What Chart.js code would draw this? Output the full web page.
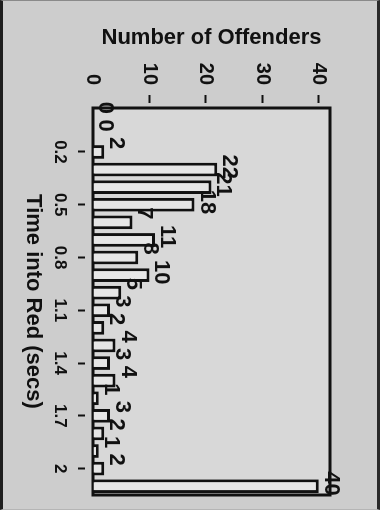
<!DOCTYPE html>
<html>
<head>
<meta charset="utf-8">
<script src="https://cdn.jsdelivr.net/npm/chart.js@4/dist/chart.umd.min.js"></script>
<style>
  html, body { margin: 0; padding: 0; }
  body { width: 380px; height: 510px; overflow: hidden; background: #cdcdcd; position: relative; }
  #edge { position: absolute; left: 0; top: 0; width: 374px; height: 508px;
          border-left: 3px solid #1e1e1e; border-right: 3px solid #2a2a2a;
          border-top: 1px solid #8a8a8a; border-bottom: 1px solid #b5b5b5; }
  /* the scan is a column chart turned a quarter turn clockwise */
  #wrap { position: absolute; left: 0; top: 0; width: 510px; height: 380px;
          transform-origin: 0 0; transform: translate(380px, 0) rotate(90deg); }
</style>
</head>
<body>
<div id="edge"></div>
<div id="wrap"><canvas id="chart" width="510" height="380"></canvas></div>
<script>
// Time into red, 0.1 s bins
const binLabels = ['0', '0.1', '0.2', '0.3', '0.4', '0.5', '0.6', '0.7', '0.8', '0.9', '1',
                   '1.1', '1.2', '1.3', '1.4', '1.5', '1.6', '1.7', '1.8', '1.9', '2', '2.1'];
const offenders = [0, 0, 2, 22, 21, 18, 7, 11, 8, 10, 5,
                   3, 2, 4, 3, 4, 1, 3, 2, 1, 2, 40];
const shownBins = ['0.2', '0.5', '0.8', '1.1', '1.4', '1.7', '2'];
const valueTicks = [0, 10, 20, 30, 40];

const INK = '#111';
const FONT = "'Liberation Sans', Arial, sans-serif";

// frame round the plot, drawn under the bars
const framePlugin = {
  id: 'frame',
  beforeDatasetsDraw(chart) {
    const { ctx, chartArea: a } = chart;
    ctx.save();
    ctx.fillStyle = '#d8d8d8';
    ctx.fillRect(a.left, a.top, a.right - a.left, a.bottom - a.top);
    ctx.strokeStyle = INK;
    ctx.lineWidth = 3;
    ctx.strokeRect(a.left, a.top, a.right - a.left, a.bottom - a.top);
    ctx.restore();
  }
};

// count written at the end of each bar
const countLabels = {
  id: 'countLabels',
  afterDatasetsDraw(chart) {
    const { ctx } = chart;
    const meta = chart.getDatasetMeta(0);
    ctx.save();
    ctx.fillStyle = INK;
    ctx.font = 'bold 22px ' + FONT;
    ctx.textAlign = 'left';
    ctx.textBaseline = 'bottom';
    meta.data.forEach((bar, i) => {
      ctx.fillText(String(offenders[i]), bar.x - 15, bar.y - 1);
    });
    ctx.restore();
  }
};

new Chart(document.getElementById('chart'), {
  type: 'bar',
  data: {
    labels: binLabels,
    datasets: [{
      data: offenders,
      backgroundColor: '#e6e6e6',
      borderColor: INK,
      borderWidth: 3,
      barPercentage: 0.78,
      categoryPercentage: 1.0
    }]
  },
  options: {
    responsive: false,
    animation: false,
    layout: { padding: { left: 25, right: 15, top: 50, bottom: 20 } },
    plugins: { legend: { display: false }, tooltip: { enabled: false } },
    scales: {
      x: {
        afterFit: s => { s.height = 73; },
        border: { display: false },
        grid: {
          offset: false,
          drawOnChartArea: false,
          tickLength: 15,
          tickWidth: 2,
          tickBorderDash: [0, 8, 7, 60],
          tickColor: c => shownBins.includes(binLabels[c.index]) ? INK : 'rgba(0,0,0,0)'
        },
        ticks: {
          autoSkip: false,
          maxRotation: 0,
          minRotation: 0,
          padding: 8,
          color: INK,
          font: { family: FONT, size: 17, weight: 'bold' },
          callback: (v, i) => shownBins.includes(binLabels[i]) ? binLabels[i] : ''
        },
        title: {
          display: true,
          text: 'Time into Red (secs)',
          color: INK,
          padding: 0,
          font: { family: FONT, size: 22, weight: 'bold' }
        }
      },
      y: {
        min: 0,
        max: 42,
        afterBuildTicks: s => { s.ticks = valueTicks.map(v => ({ value: v })); },
        afterFit: s => { s.width = 83; },
        border: { display: false },
        grid: {
          drawOnChartArea: false,
          tickLength: 13,
          tickWidth: 2,
          tickBorderDash: [8, 60],
          tickColor: c => (c.tick && c.tick.value === 0) ? 'rgba(0,0,0,0)' : INK
        },
        ticks: {
          padding: 10,
          color: INK,
          font: { family: FONT, size: 20, weight: 'bold' }
        },
        title: {
          display: true,
          text: 'Number of Offenders',
          color: INK,
          padding: 0,
          font: { family: FONT, size: 22, weight: 'bold' }
        }
      }
    }
  },
  plugins: [framePlugin, countLabels]
});
</script>
</body>
</html>
